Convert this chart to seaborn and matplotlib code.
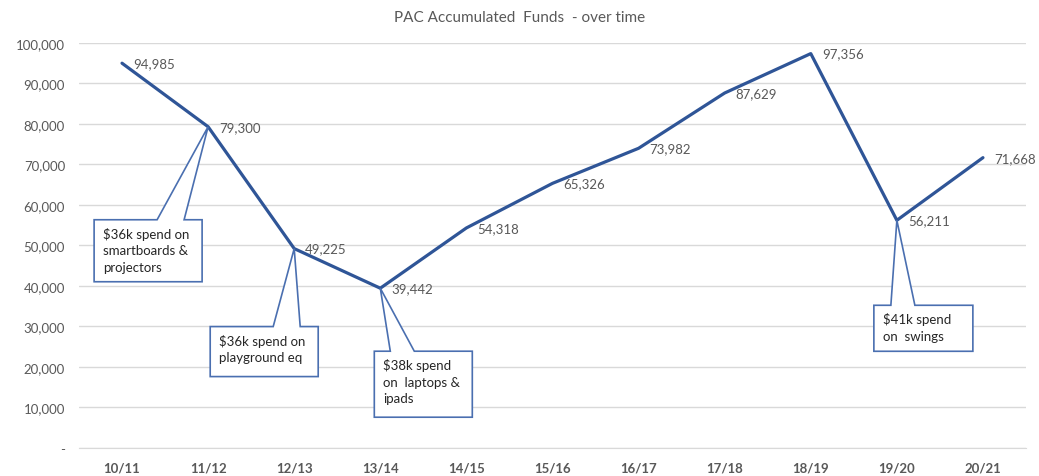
import numpy as np
import matplotlib
matplotlib.use('Agg')
import matplotlib.pyplot as plt
from matplotlib.patches import Polygon
import seaborn as sns

# data
seasons = ['10/11', '11/12', '12/13', '13/14', '14/15', '15/16',
           '16/17', '17/18', '18/19', '19/20', '20/21']
funds = [94985, 79300, 49225, 39442, 54318, 65326, 73982, 87629, 97356, 56211, 71668]

notes = ['$36k spend on\nsmartboards &\nprojectors',
         '$36k spend on\nplayground eq',
         '$38k spend\non  laptops &\nipads',
         '$41k spend\non  swings']
note_at = ['11/12', '12/13', '13/14', '19/20']

sns.set_style('white')
plt.rcParams['font.family'] = ['Lato', 'DejaVu Sans']

line_col = '#2F5597'
box_col = '#4a6fb0'
grey = '#595959'

fig = plt.figure(figsize=(10.39, 4.77), dpi=100)
ax = fig.add_axes([0.076, 0.0587, 0.9115, 0.8493])

xs = np.arange(len(seasons))
sns.lineplot(x=xs, y=funds, ax=ax, color=line_col, linewidth=2.3)

ax.set_xlim(-0.5, len(seasons) - 0.5)
ax.set_ylim(0, 100000)
ax.set_yticks(np.arange(0, 100001, 10000))
ax.set_yticklabels(['-'] + [f'{v:,}' for v in range(10000, 100001, 10000)],
                   fontsize=9.5, color=grey)
ax.set_xticks(xs)
ax.set_xticklabels(seasons, fontsize=9.5, color=grey, fontweight='bold')
ax.tick_params(axis='both', length=0, pad=10)
ax.grid(axis='y', color='#D9D9D9', linewidth=1)
for s in ['top', 'right', 'left']:
    ax.spines[s].set_visible(False)
ax.spines['bottom'].set_color('#D9D9D9')

fig.text(0.5, 0.963, 'PAC Accumulated  Funds  - over time', ha='center', va='center',
         fontsize=11, color=grey)

# value labels
for x, v in zip(xs, funds):
    ax.annotate(f'{v:,}', (x, v), xytext=(11, 0), textcoords='offset pixels',
                ha='left', va='center', fontsize=9.5, color=grey)

# callouts: box left, right, top, bottom, wedge base left/right (pixels from tip, y down)
shapes = [(-114, -6, 93, 155, -51, -24),
          (-84, 24, 78, 128, -21, 6),
          (-6, 92, 63, 129, 10, 34),
          (-23, 76, 85, 131, -6, 18)]

for txt, lab, (l, r, t, b, w1, w2) in zip(notes, note_at, shapes):
    i = seasons.index(lab)
    px, py = ax.transData.transform((i, funds[i]))
    verts = [(px + l, py - b), (px + r, py - b), (px + r, py - t),
             (px + w2, py - t), (px, py), (px + w1, py - t), (px + l, py - t)]
    poly = Polygon(verts, closed=True, transform=None, facecolor='white',
                   edgecolor=box_col, linewidth=1.2, zorder=4)
    fig.patches.append(poly)
    fig.text(px + l + 9, py - t - 7, txt, transform=None, ha='left', va='top',
             fontsize=9.5, color='#262626', linespacing=1.45, zorder=5)

fig.savefig('out.png', dpi=100)
